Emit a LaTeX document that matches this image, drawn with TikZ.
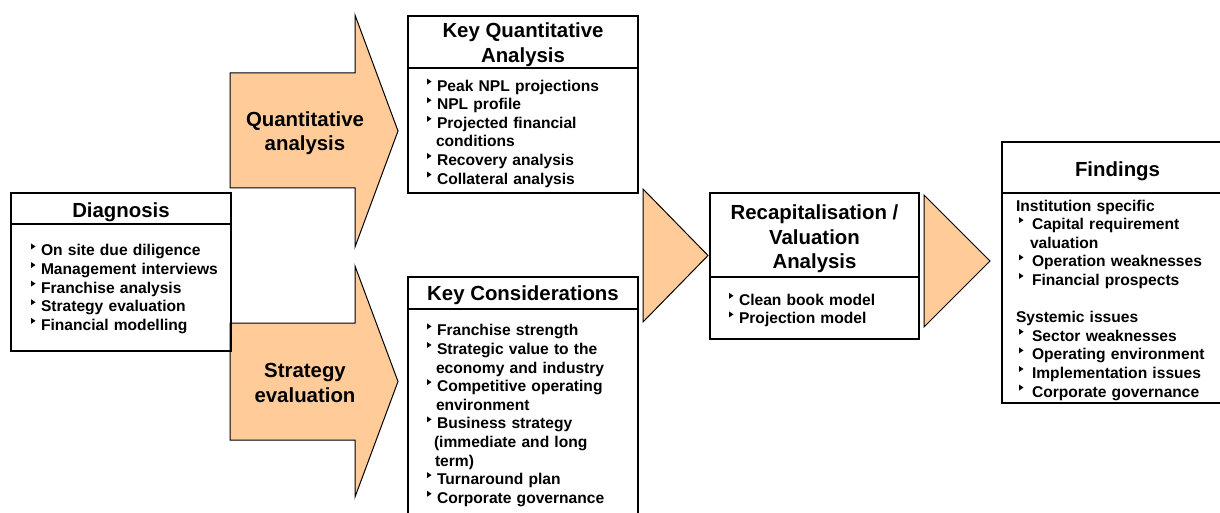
\documentclass[tikz,border=0pt]{standalone}
\usepackage{fontspec}
\setmainfont{Liberation Sans}
\definecolor{peach}{HTML}{FFCC99}
\newcommand\tri{\tikz[x=1pt,y=1pt,baseline=0pt]\fill (0,6.5)--(0,12.5)--(4.5,9.5)--cycle;}
\newcommand\bl[1][10pt]{\makebox[#1][l]{\tri}}
\newcommand\hg[1][9pt]{\hspace*{#1}}
\newcommand\st[1]{\rule{0pt}{#1pt}}
\begin{document}
\begin{tikzpicture}[x=1pt,y=-1pt,line join=miter,
	head/.style={draw,line width=1.2pt,outer sep=0pt,anchor=north west,align=center,inner sep=0pt,font=\bfseries\fontsize{20.4}{24.5}\selectfont},
	body/.style={draw,line width=1.2pt,outer sep=0pt,anchor=north west,align=left,inner ysep=0pt,font=\bfseries\fontsize{15.6}{18.6}\selectfont},
	blk/.style={fill=peach,draw=black,line width=1pt},
	lbl/.style={align=center,font=\bfseries\fontsize{20.4}{24.5}\selectfont}]
		\useasboundingbox (0,0) rectangle (1220,513);
		\draw[blk] (230,73)--(355,73)--(355,15)--(398,131)--(355,247)--(355,188)--(230,188)--cycle;
		\draw[blk] (230,323)--(355,323)--(355,266)--(398,381.5)--(355,497)--(355,440)--(230,440)--cycle;
		\draw[blk] (643,189)--(708,255.5)--(643,322)--cycle;
		\draw[blk] (924,195)--(990,261)--(924,327)--cycle;
		\node[lbl] (qa) at (305,133) {Quantitative\\analysis};
		\node[lbl] (se) at (305,383) {Strategy\\evaluation};
		\node[head,minimum width=220pt,minimum height=31pt] (diag) at (11,193) {\st{22.9}Diagnosis};
		\node[body,minimum height=127pt,text width=200pt,inner xsep=10pt] (diagb) at (diag.south west)
		{\st{14.6}\hg[10pt]\bl On site due diligence\\ \hg[10pt]\bl Management interviews\\ \hg[10pt]\bl Franchise analysis\\ \hg[10pt]\bl Strategy evaluation\\ \hg[10pt]\bl Financial modelling};
		\node[head,minimum width=230pt,minimum height=52pt] (kqa) at (408,16) {\st{19.9}Key Quantitative\\Analysis};
		\node[body,minimum height=125pt,text width=192pt,inner xsep=19pt] (kqab) at (kqa.south west)
		{\st{17.4}\bl Peak NPL projections\\ \bl NPL profile\\ \bl Projected financial\\ \hg conditions\\ \bl Recovery analysis\\ \bl Collateral analysis};
		\node[head,minimum width=230pt,minimum height=32pt] (kcon) at (408,277) {\st{18.9}Key Considerations};
		\node[body,minimum height=209pt,text width=192pt,inner xsep=19pt] (kconb) at (kcon.south west)
		{\st{15.4}\bl Franchise strength\\ \bl Strategic value to the\\ \hg economy and industry\\ \bl Competitive operating\\ \hg environment\\
		\bl Business strategy\\ \hg[7pt](immediate and long\\ \hg[8pt]term)\\ \bl Turnaround plan\\ \bl Corporate governance};
		\node[head,minimum width=209pt,minimum height=84pt] (recap) at (710,193) {\st{22.9}Recapitalisation /\\Valuation\\Analysis};
		\node[body,minimum height=62pt,text width=171pt,inner xsep=19pt] (recapb) at (recap.south west)
		{\st{16.4}\bl Clean book model\\ \bl Projection model};
		\node[head,minimum width=231pt,minimum height=51pt] (find) at (1002,142) {\st{22.9}Findings};
		\node[body,minimum height=210pt,text width=203pt,inner xsep=14pt] (findb) at (find.south west)
		{\st{15.4}Institution specific\\ \hg[3pt]\bl[13pt]Capital requirement\\ \hg[14pt]valuation\\ \hg[3pt]\bl[13pt]Operation weaknesses\\ \hg[3pt]\bl[13pt]Financial prospects\\[18.6pt]
		Systemic issues\\ \hg[3pt]\bl[13pt]Sector weaknesses\\ \hg[3pt]\bl[13pt]Operating environment\\ \hg[3pt]\bl[13pt]Implementation issues\\ \hg[3pt]\bl[13pt]Corporate governance};
\end{tikzpicture}
\end{document}
